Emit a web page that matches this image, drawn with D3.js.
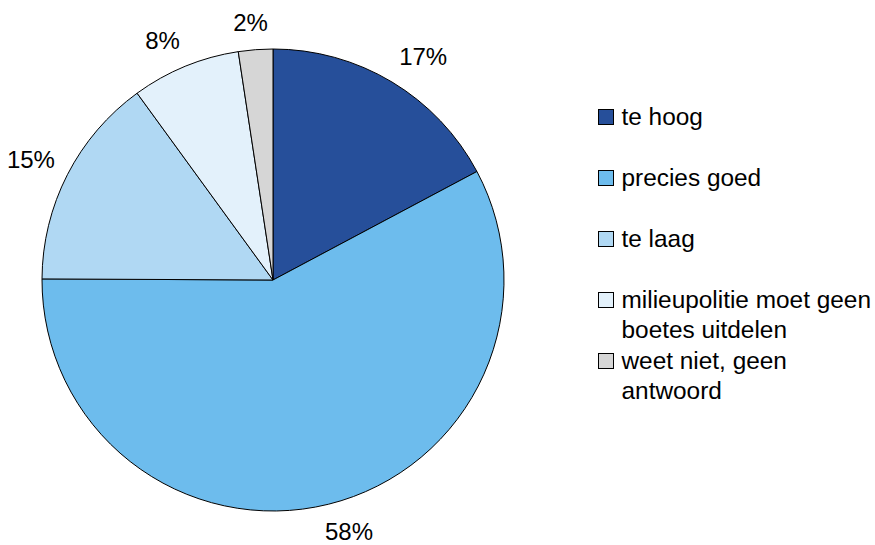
<!DOCTYPE html>
<html><head><meta charset="utf-8">
<script src="https://cdn.jsdelivr.net/npm/d3@7"></script>
<style>body{margin:0;background:#fff}svg{display:block;font-family:"Liberation Sans",Arial,sans-serif}</style>
</head><body>
<svg id="c" width="875" height="545"></svg>
<script>
const categories = ["te hoog","precies goed","te laag","milieupolitie moet geen boetes uitdelen","weet niet, geen antwoord"];
const legendLines = [["te hoog"],["precies goed"],["te laag"],["milieupolitie moet geen","boetes uitdelen"],["weet niet, geen","antwoord"]];
const values = [17.2, 57.8, 14.9, 7.6, 2.4];
const labels = ["17%","58%","15%","8%","2%"];
const colors = ["#264F9A","#6DBCED","#B0D8F3","#E3F1FB","#D6D6D6"];

const svg = d3.select("#c");
const cx = 273, cy = 280, r = 231;
const g = svg.append("g").attr("transform",`translate(${cx},${cy})`);
const pie = d3.pie().sort(null).value(d=>d.v);
const data = pie(values.map((v,i)=>({v,i})));
const arc = d3.arc().innerRadius(0).outerRadius(r);
g.selectAll("path").data(data).join("path")
  .attr("d",arc).attr("fill",d=>colors[d.data.i])
  .attr("stroke","#000").attr("stroke-width",1).attr("stroke-linejoin","round");

// labels: anchored just outside the rim, box pushed outward (Excel-like "outside end")
const labelR = r + 14, boxH = 27;
const clamp = v => Math.max(-1, Math.min(1, v));
g.selectAll("text").data(data).join("text")
  .attr("text-anchor","middle").attr("dy","0.36em")
  .attr("font-size",24).attr("fill","#000")
  .text(d=>labels[d.data.i])
  .each(function(d){
    const a = (d.startAngle + d.endAngle)/2;
    const w = this.getComputedTextLength();
    const px = labelR*Math.sin(a), py = -labelR*Math.cos(a);
    const x = px + clamp(3*Math.sin(a))*w/2;
    const y = py + clamp(-1.5*Math.cos(a))*boxH/2;
    d3.select(this).attr("x",x).attr("y",y);
  });

const legBase = [125,186,247,308,369];
const lg = svg.append("g");
legendLines.forEach((lines,i)=>{
  lg.append("rect").attr("x",598.5).attr("y",legBase[i]-15.5).attr("width",15).attr("height",15)
    .attr("fill",colors[i]).attr("stroke","#000").attr("stroke-width",1);
  const t = lg.append("text").attr("x",621).attr("y",legBase[i]).attr("font-size",24.4).attr("fill","#000");
  lines.forEach((l,j)=>t.append("tspan").attr("x",621.5).attr("y",legBase[i]+j*30).text(l));
});
</script>
</body></html>
